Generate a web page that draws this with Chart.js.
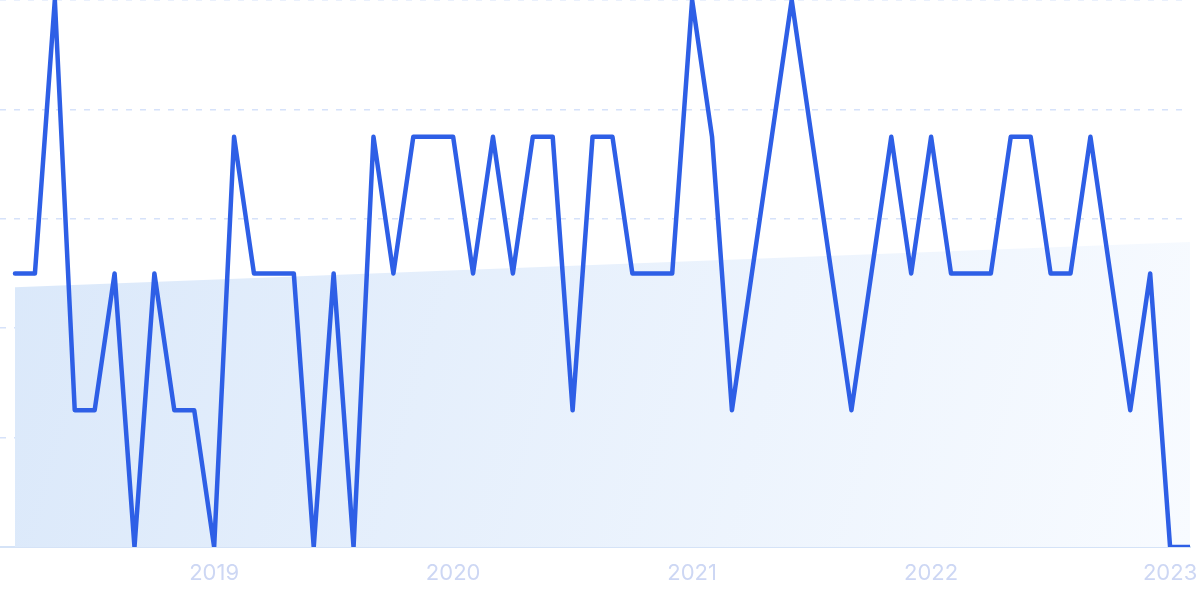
<!DOCTYPE html>
<html>
<head>
<meta charset="utf-8">
<style>
  html, body { margin: 0; padding: 0; background: #ffffff; }
  #wrap { width: 1200px; height: 599px; position: relative; }
</style>
<script src="https://cdn.jsdelivr.net/npm/chart.js@4.4.1/dist/chart.umd.min.js"></script>
</head>
<body>
<div id="wrap"><canvas id="c" width="1200" height="599"></canvas></div>
<script>
// Monthly categories (Mar 2018 – Feb 2023)
const months = [
  "2018-03","2018-04","2018-05","2018-06","2018-07","2018-08","2018-09","2018-10","2018-11","2018-12",
  "2019-01","2019-02","2019-03","2019-04","2019-05","2019-06","2019-07","2019-08","2019-09","2019-10","2019-11","2019-12",
  "2020-01","2020-02","2020-03","2020-04","2020-05","2020-06","2020-07","2020-08","2020-09","2020-10","2020-11","2020-12",
  "2021-01","2021-02","2021-03","2021-04","2021-05","2021-06","2021-07","2021-08","2021-09","2021-10","2021-11","2021-12",
  "2022-01","2022-02","2022-03","2022-04","2022-05","2022-06","2022-07","2022-08","2022-09","2022-10","2022-11","2022-12",
  "2023-01","2023-02"
];
// Series values
const values = [
  2,2,4,1,1,2,0,2,1,1,
  0,3,2,2,2,0,2,0,3,2,
  3,3,3,2,3,2,3,3,1,3,
  3,2,2,2,4,3,1,2,3,4,
  3,2,1,2,3,2,3,2,2,2,
  3,3,2,2,3,2,1,2,0,0
];
// Trend line (start / end values)
const trendValues = [1.9, 2.23];
// Tick labels on the x axis
const yearLabels = ["2019","2020","2021","2022","2023"];
const yearMonths = ["2019-01","2020-01","2021-01","2022-01","2023-01"];

const linePoints = values.map((v, i) => ({ x: i, y: v }));
const trendPoints = [
  { x: 0, y: trendValues[0] },
  { x: months.length - 1, y: trendValues[1] }
];
const yearTickIdx = yearMonths.map(m => months.indexOf(m));

const ctx = document.getElementById('c').getContext('2d');

function fillGradient(context) {
  const chart = context.chart;
  const a = chart.chartArea;
  if (!a) return 'rgba(220,233,250,0.8)';
  const g = chart.ctx.createLinearGradient(a.left, a.top + a.height * 0.4, a.right, a.bottom);
  g.addColorStop(0, '#dae8fa');
  g.addColorStop(1, '#f8fbff');
  return g;
}

new Chart(ctx, {
  type: 'line',
  data: {
    datasets: [
      {
        label: 'value',
        data: linePoints,
        borderColor: '#2e5fe6',
        borderWidth: 4.5,
        pointRadius: 0,
        tension: 0,
        fill: false,
        borderJoinStyle: 'round',
        borderCapStyle: 'round',
        order: 0
      },
      {
        label: 'trend',
        data: trendPoints,
        borderWidth: 0,
        borderColor: 'rgba(0,0,0,0)',
        pointRadius: 0,
        tension: 0,
        fill: 'origin',
        backgroundColor: fillGradient,
        order: 1
      }
    ]
  },
  options: {
    responsive: false,
    animation: false,
    devicePixelRatio: 1,
    layout: { padding: { left: 0, right: 10, top: 0, bottom: 0 } },
    plugins: { legend: { display: false }, tooltip: { enabled: false } },
    scales: {
      x: {
        type: 'linear',
        min: -0.753,
        max: months.length - 1,
        grid: { display: false, drawTicks: false },
        border: { display: true, color: '#d5e3f7', width: 2 },
        afterBuildTicks: (scale) => {
          scale.ticks = yearTickIdx.map(v => ({ value: v }));
        },
        afterFit: (s) => { s.paddingRight = 0; s.paddingLeft = 0; },
        ticks: {
          autoSkip: false,
          maxRotation: 0,
          padding: 15,
          color: '#cdd7f4',
          font: { family: 'Inter', size: 22, lineHeight: 1.0 },
          callback: (v) => {
            const k = yearTickIdx.indexOf(v);
            return k >= 0 ? yearLabels[k] : '';
          }
        }
      },
      y: {
        min: 0,
        max: 4,
        ticks: { display: false, stepSize: 0.8 },
        afterFit: (s) => { s.width = 0; },
        border: { display: false, dash: [6, 8] },
        grid: {
          drawTicks: false,
          color: (c) => (c.tick && c.tick.value === 0) ? 'rgba(0,0,0,0)' : '#d6e2fa',
          lineWidth: 1.5
        }
      }
    }
  }
});
</script>
</body>
</html>
